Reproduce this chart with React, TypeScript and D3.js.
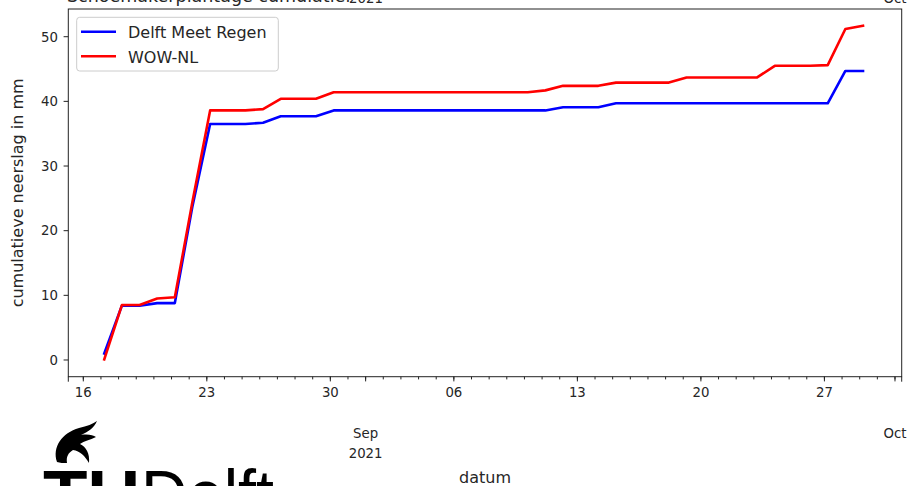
import React from "react";
import * as d3 from "d3";

// ---------- data ----------
const SERIES_NAMES = ["Delft Meet Regen", "WOW-NL"];
const SERIES_COLORS = ["#0000ff", "#ff0000"];
const FIRST_DAY = new Date(2021, 7, 17, 4, 30);
const DELFT_MEET_REGEN = [
  1.0, 8.4, 8.4, 8.8, 8.8, 23.8, 36.5, 36.5, 36.5, 36.7, 37.7, 37.7, 37.7, 38.6, 38.6,
  38.6, 38.6, 38.6, 38.6, 38.6, 38.6, 38.6, 38.6, 38.6, 38.6, 38.6, 39.1, 39.1, 39.1,
  39.7, 39.7, 39.7, 39.7, 39.7, 39.7, 39.7, 39.7, 39.7, 39.7, 39.7, 39.7, 39.7, 44.7, 44.7,
];
const WOW_NL = [
  0.1, 8.5, 8.5, 9.5, 9.7, 24.5, 38.6, 38.6, 38.6, 38.8, 40.4, 40.4, 40.4, 41.4, 41.4,
  41.4, 41.4, 41.4, 41.4, 41.4, 41.4, 41.4, 41.4, 41.4, 41.4, 41.7, 42.4, 42.4, 42.4,
  42.9, 42.9, 42.9, 42.9, 43.7, 43.7, 43.7, 43.7, 43.7, 45.5, 45.5, 45.5, 45.6, 51.2, 51.7,
];
const Y_TICKS = [0, 10, 20, 30, 40, 50];
const X_DOMAIN = [new Date(2021, 7, 15, 3, 36), new Date(2021, 9, 1, 9, 7)];
const Y_DOMAIN = [-2.585, 54.285];
const TICK_START = new Date(2021, 7, 16);
const TICK_END = new Date(2021, 9, 2);
const TITLE = "Schoemakerplantage cumulatief";

// ---------- layout ----------
const W = 910, H = 486;
const L = 68.3, R = 901.7, T = 9, B = 376.7;
const FONT = "DejaVu Sans, sans-serif";
const TXT = "#262626";

export default function App() {
  const x = d3.scaleTime().domain(X_DOMAIN).range([L, R]);
  const y = d3.scaleLinear().domain(Y_DOMAIN).range([B, T]);
  const dates = DELFT_MEET_REGEN.map((_, i) => d3.timeDay.offset(FIRST_DAY, i));
  const series = [DELFT_MEET_REGEN, WOW_NL];
  const line = d3.line<number>().x((_, i) => x(dates[i])).y((v) => y(v));

  const minor = d3.timeDay.range(TICK_START, TICK_END);
  const major = d3.timeMonday.range(TICK_START, TICK_END);
  const months = d3.timeMonth.range(TICK_START, TICK_END);
  const fmtDay = d3.timeFormat("%d");
  const fmtMon = d3.timeFormat("%b");
  const fmtYear = d3.timeFormat("%Y");

  return (
    <svg width={W} height={H} style={{ position: "absolute", left: 0, top: 0, background: "#fff" }}>
      <rect x={0} y={0} width={W} height={H} fill="#fff" />
      {/* cut-off title and labels from above */}
      <text x={67} y={1.5} fontFamily={FONT} fontSize={17.5} fill={TXT}>{TITLE}</text>
      <text x={366} y={3} fontFamily={FONT} fontSize={13.3} fill={TXT} textAnchor="middle">2021</text>
      <text x={895} y={3} fontFamily={FONT} fontSize={13.3} fill={TXT} textAnchor="middle">Oct</text>

      {/* lines */}
      <g clipPath="url(#clip)">
        {series.map((s, k) => (
          <path key={k} d={line(s) || ""} fill="none" stroke={SERIES_COLORS[k]} strokeWidth={2.6} strokeLinejoin="round" strokeLinecap="square" />
        ))}
      </g>
      <defs>
        <clipPath id="clip"><rect x={L} y={T} width={R - L} height={B - T} /></clipPath>
      </defs>

      {/* spines */}
      <rect x={L} y={T} width={R - L} height={B - T} fill="none" stroke="#222" strokeWidth={1} />

      {/* y ticks */}
      {Y_TICKS.map((v) => (
        <g key={v}>
          <line x1={L - 4.7} x2={L} y1={y(v)} y2={y(v)} stroke="#222" strokeWidth={1} />
          <text x={58} y={y(v) + 4.8} textAnchor="end" fontFamily={FONT} fontSize={13.3} fill={TXT}>{v}</text>
        </g>
      ))}

      {/* x ticks */}
      {minor.map((d) => (
        <line key={"m" + +d} x1={x(d)} x2={x(d)} y1={B} y2={B + 2.7} stroke="#222" strokeWidth={1} />
      ))}
      {major.map((d) => (
        <g key={"M" + +d}>
          <line x1={x(d)} x2={x(d)} y1={B} y2={B + 4.7} stroke="#222" strokeWidth={1} />
          <text x={x(d)} y={397} textAnchor="middle" fontFamily={FONT} fontSize={13.3} fill={TXT}>{fmtDay(d)}</text>
        </g>
      ))}
      {months.map((d, i) => (
        <g key={"mo" + +d}>
          <line x1={x(d)} x2={x(d)} y1={B} y2={B + 4.7} stroke="#222" strokeWidth={1} />
          <text x={x(d)} y={438} textAnchor="middle" fontFamily={FONT} fontSize={13.3} fill={TXT}>{fmtMon(d)}</text>
          {i === 0 && (
            <text x={x(d)} y={458} textAnchor="middle" fontFamily={FONT} fontSize={13.3} fill={TXT}>{fmtYear(d)}</text>
          )}
        </g>
      ))}
      <line x1={L} x2={L} y1={B} y2={B + 5} stroke="#222" strokeWidth={1} />
      <line x1={R} x2={R} y1={B} y2={B + 5} stroke="#222" strokeWidth={1} />

      {/* axis labels */}
      <text x={(L + R) / 2} y={482.5} textAnchor="middle" fontFamily={FONT} fontSize={16} fill={TXT}>datum</text>
      <text transform={`translate(23,${(T + B) / 2}) rotate(-90)`} textAnchor="middle" fontFamily={FONT} fontSize={16} fill={TXT}>
        cumulatieve neerslag in mm
      </text>

      {/* legend */}
      <rect x={76.7} y={17.3} width={201.6} height={53.7} rx={3} fill="#fff" fillOpacity={0.8} stroke="#ccc" strokeWidth={1} />
      {SERIES_NAMES.map((n, k) => (
        <g key={n}>
          <line x1={81} x2={116} y1={31.7 + k * 24.5} y2={31.7 + k * 24.5} stroke={SERIES_COLORS[k]} strokeWidth={2.6} />
          <text x={128} y={38 + k * 24.5} fontFamily={FONT} fontSize={16} fill={TXT}>{n}</text>
        </g>
      ))}

      {/* TU Delft logo */}
      <path
        d="M57 462 C52 447 62 433 79 428 C87 426 93 424 97 421 C94 428 88 432 81 435 C88 434 93 435 96 437 C90 440 84 441 80 444 C86 447 90 453 89 463 C85 456 80 451 73 450 C68 453 66 457 67 463 C63 463 60 463 57 462 Z"
        fill="#000"
      />
      <text x={43} y={518} fontFamily="Liberation Sans, Arial, sans-serif" fontWeight="bold" fontSize={68} fill="#000" textLength={97} lengthAdjust="spacingAndGlyphs">TU</text>
      <text x={141} y={518} fontFamily="Liberation Sans, Arial, sans-serif" fontSize={68} fill="#000" textLength={133} lengthAdjust="spacingAndGlyphs">Delft</text>
    </svg>
  );
}
